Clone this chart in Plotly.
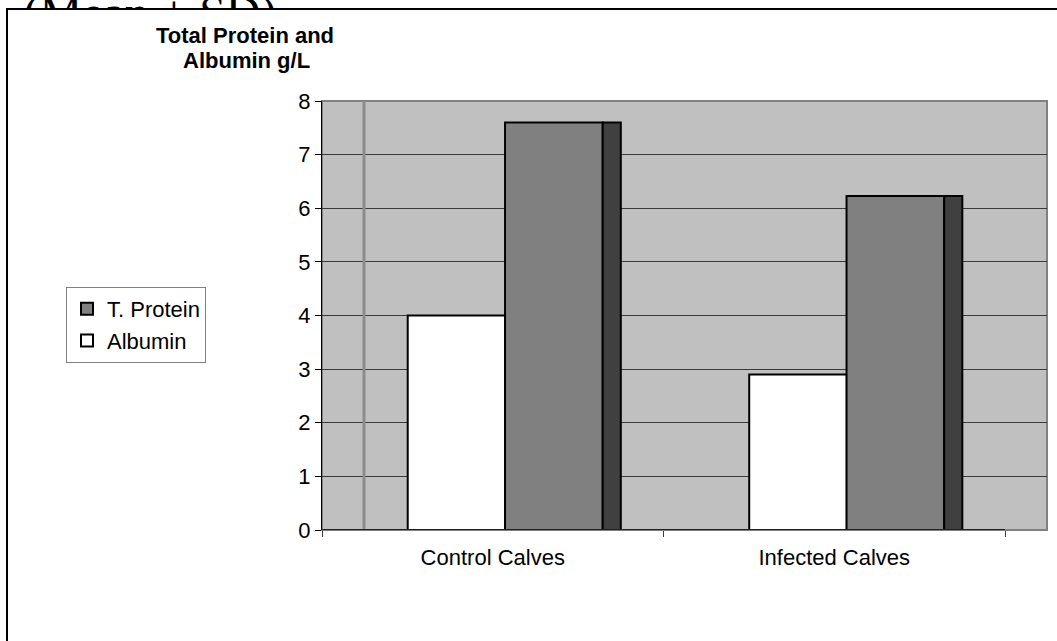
import plotly.graph_objects as go

# ---- data ----
categories = ["Control Calves", "Infected Calves"]
albumin = [4.0, 2.9]
total_protein = [7.6, 6.23]
y_ticks = [0, 1, 2, 3, 4, 5, 6, 7, 8]

W, H = 1057, 641
FONT = "Liberation Sans, Arial, sans-serif"


def px_x(p):
    return p / W


def px_y(p):
    return 1 - p / H


fig = go.Figure()

# albumin columns (white)
fig.add_trace(go.Bar(
    x=categories, y=albumin, name="Albumin",
    offset=-0.249, width=0.286,
    marker=dict(color="#ffffff", line=dict(color="#000000", width=2)),
    legendrank=2, hoverinfo="x+y+name",
))
# total protein columns: front face
fig.add_trace(go.Bar(
    x=categories, y=total_protein, name="T. Protein",
    offset=0.036, width=0.286,
    marker=dict(color="#808080", line=dict(color="#000000", width=2)),
    legendrank=1, hoverinfo="x+y+name",
))
# total protein columns: shaded side face
fig.add_trace(go.Bar(
    x=categories, y=total_protein, name="T. Protein",
    offset=0.322, width=0.053, showlegend=False,
    marker=dict(color="#404040", line=dict(color="#000000", width=2)),
    hoverinfo="skip",
))

# heading above the chart frame, clipped by its own strip of axes
fig.add_trace(go.Scatter(
    x=[150], y=[16.6], mode="text", text=["(Mean ± SD)"],
    textposition="middle center", cliponaxis=True,
    textfont=dict(family="Liberation Serif, Times New Roman, serif", size=48, color="#000000"),
    xaxis="x2", yaxis="y2", showlegend=False, hoverinfo="skip",
))

x_lo, x_hi = -0.5, 1.5 + 42 / 341.5
wall_edge = -0.5 + 42 / 341.5

fig.update_layout(
    width=W, height=H,
    margin=dict(l=0, r=0, t=0, b=0, autoexpand=False),
    paper_bgcolor="#ffffff",
    plot_bgcolor="rgba(0,0,0,0)",
    barmode="overlay",
    font=dict(family=FONT, size=22, color="#000000"),
    showlegend=True,
    legend=dict(
        x=px_x(66), y=px_y(287), xanchor="left", yanchor="top",
        bgcolor="#ffffff", bordercolor="#808080", borderwidth=1,
        font=dict(family=FONT, size=22, color="#000000"),
        traceorder="normal",
    ),
    xaxis=dict(
        domain=[px_x(322), px_x(1047)],
        type="category", range=[x_lo, x_hi],
        tickson="boundaries", ticks="outside", ticklen=6, tickwidth=1,
        tickcolor="#404040", showgrid=False, showline=False, zeroline=False,
        tickfont=dict(family=FONT, size=22, color="#000000"),
        ticklabelstandoff=12,
        fixedrange=True,
    ),
    yaxis=dict(
        domain=[px_y(530), px_y(101)],
        range=[0, 8], tickvals=y_ticks,
        ticks="outside", ticklen=6, tickwidth=1, tickcolor="#000000",
        showgrid=True, gridcolor="#3a3a3a", gridwidth=1,
        showline=True, linecolor="#000000", linewidth=1,
        zeroline=False,
        tickfont=dict(family=FONT, size=22, color="#000000"),
        fixedrange=True,
    ),
    xaxis2=dict(domain=[0, 1], range=[0, W], visible=False, anchor="y2", fixedrange=True),
    yaxis2=dict(domain=[px_y(9), 1], range=[9, 0], visible=False, anchor="x2", fixedrange=True),
)

shapes = [
    # grey wall behind the columns
    dict(type="rect", xref="x domain", yref="y domain", x0=0, x1=1, y0=0, y1=1,
         line=dict(color="#808080", width=2), fillcolor="#c0c0c0", layer="below"),
    # wall edge
    dict(type="line", xref="x", yref="y domain", x0=wall_edge, x1=wall_edge, y0=0, y1=1,
         line=dict(color="#8c8c8c", width=3), layer="above"),
    # floor line under the categories
    dict(type="line", xref="x", yref="y", x0=-0.5, x1=1.5, y0=0, y1=0,
         line=dict(color="#202020", width=2), layer="above"),
    # outer chart frame
    dict(type="rect", xref="paper", yref="paper",
         x0=px_x(7), x1=px_x(1070), y0=px_y(660), y1=px_y(9),
         line=dict(color="#000000", width=2), fillcolor="rgba(0,0,0,0)", layer="above"),
]
fig.update_layout(shapes=shapes)

# value axis title
fig.add_annotation(text="<b>Total Protein and</b>", xref="paper", yref="paper",
                   x=px_x(245), y=px_y(50), xanchor="center", yanchor="bottom",
                   showarrow=False, font=dict(family=FONT, size=22, color="#000000"))
fig.add_annotation(text="<b>Albumin g/L</b>", xref="paper", yref="paper",
                   x=px_x(246), y=px_y(75), xanchor="center", yanchor="bottom",
                   showarrow=False, font=dict(family=FONT, size=22, color="#000000"))

fig.write_html("out.html")
